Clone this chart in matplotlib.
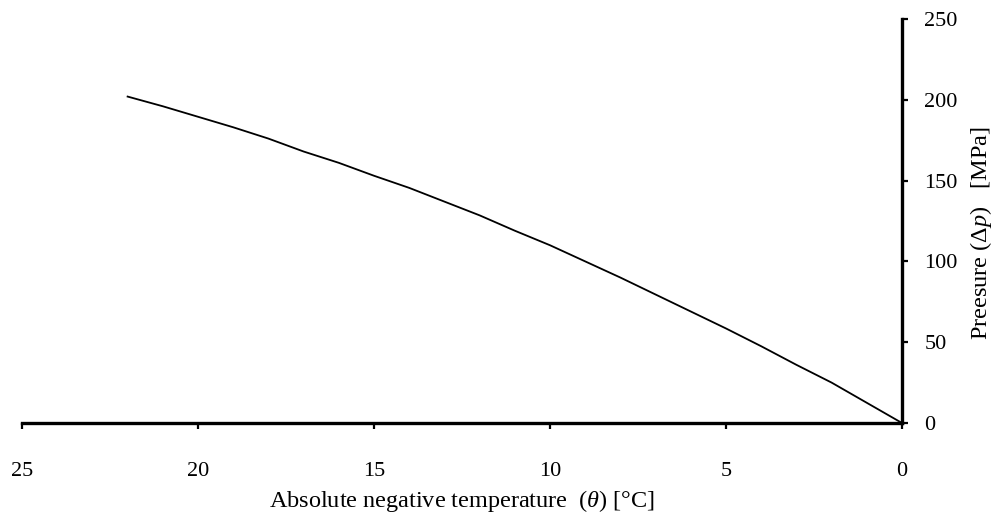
import matplotlib
matplotlib.use('Agg')
import matplotlib.pyplot as plt

# font settings (serif, Garamond-like look)
plt.rcParams['font.family'] = ['Liberation Serif', 'DejaVu Serif']
plt.rcParams['mathtext.fontset'] = 'custom'
plt.rcParams['mathtext.rm'] = 'Liberation Serif'
plt.rcParams['mathtext.it'] = 'Liberation Serif:italic'

# absolute negative temperature [C] vs pressure [MPa]
temperature = [0, 1, 2, 3, 4, 5, 6, 7, 8, 9, 10, 11,
               12, 13, 14, 15, 16, 17, 18, 19, 20, 21, 22]
pressure = [0, 12.5, 25, 36, 47.5, 58.5, 69, 79.5, 90, 100, 110, 119,
            128.5, 137, 145.5, 153, 161, 168, 176, 183, 189.5, 196, 202]

x_ticks = [25, 20, 15, 10, 5, 0]
y_ticks = [0, 50, 100, 150, 200, 250]

fig = plt.figure(figsize=(9.99, 5.13), dpi=100)
ax = fig.add_axes([22 / 999, 90 / 513, 880 / 999, 404 / 513])

ax.plot(temperature, pressure, color='black', lw=1.3)

ax.set_xlim(25, 0)
ax.set_ylim(0, 250)
ax.set_xticks(x_ticks)
ax.set_yticks(y_ticks)

# only bottom and right axis lines, thick
ax.spines['left'].set_visible(False)
ax.spines['top'].set_visible(False)
ax.spines['bottom'].set_linewidth(2.4)
ax.spines['right'].set_linewidth(2.4)
ax.yaxis.tick_right()
ax.yaxis.set_label_position('right')

ax.tick_params(axis='x', direction='out', length=4, width=1.6, pad=24, labelsize=16)
ax.tick_params(axis='y', direction='out', length=4, width=1.6, pad=12, labelsize=16)

ax.set_xlabel(r'Absolute negative temperature  ($\theta$) [°C]', fontsize=17.5, labelpad=5)
ax.set_ylabel(r'Preesure ($\Delta p$)   [MPa]', fontsize=17.5)
ax.yaxis.set_label_coords(1.075, 0.47)

fig.savefig('out.png', dpi=100)
